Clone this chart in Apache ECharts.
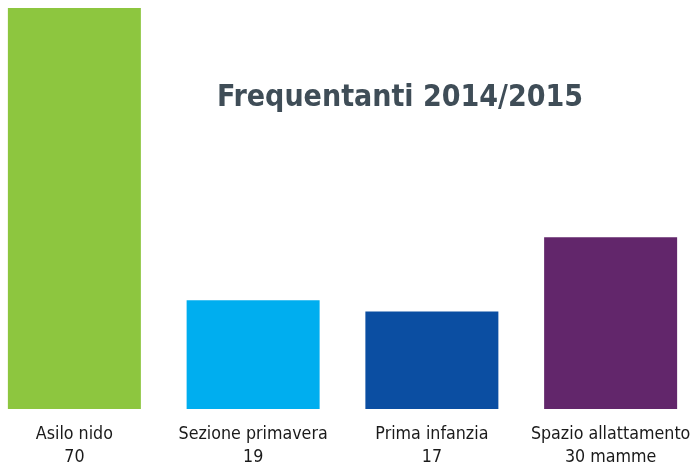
<!DOCTYPE html>
<html>
<head>
<meta charset="utf-8">
<script src="https://cdn.jsdelivr.net/npm/echarts@6/dist/echarts.min.js"></script>
<style>
  html, body { margin: 0; padding: 0; background: #fff; }
  #chart { width: 692px; height: 464px; }
</style>
</head>
<body>
<div id="chart"></div>
<script>
const categories = ['Asilo nido', 'Sezione primavera', 'Prima infanzia', 'Spazio allattamento']
const values = [70, 19, 17, 30]
const valueLabels = ['70', '19', '17', '30 mamme']
const barColors = ['#8dc63f', '#00aeef', '#0b4ea2', '#62266b']

const fontName = '"DejaVu Sans Condensed", "Liberation Sans Narrow", "Liberation Sans", sans-serif'

const chart = echarts.init(document.getElementById('chart'))
chart.setOption({
  animation: false,
  title: {
    text: 'Frequentanti 2014/2015',
    left: 395,
    top: 78,
    textAlign: 'center',
    textStyle: {
      fontFamily: fontName,
      fontWeight: 'bold',
      fontSize: 30,
      color: '#3f4d57',
    },
  },
  grid: {
    left: -15,
    width: 715,
    top: 8,
    bottom: 55,
    outerBoundsMode: 'none',
  },
  xAxis: {
    type: 'category',
    data: categories,
    axisLine: { show: false },
    axisTick: { show: false },
    axisLabel: {
      interval: 0,
      margin: 14,
      fontFamily: fontName,
      fontSize: 17.7,
      lineHeight: 23,
      color: '#1a1a1a',
      formatter: (v, i) => v + '\n' + valueLabels[i],
    },
  },
  yAxis: {
    type: 'value',
    min: 0,
    max: 70,
    show: false,
    splitLine: { show: false },
  },
  series: [
    {
      type: 'bar',
      barWidth: 133,
      data: values.map((v, i) => ({ value: v, itemStyle: { color: barColors[i] } })),
    },
  ],
})
</script>
</body>
</html>
